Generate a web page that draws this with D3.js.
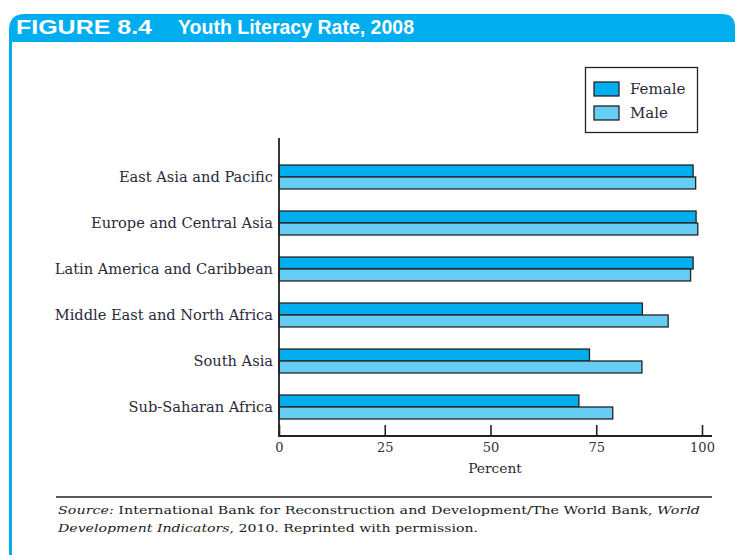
<!DOCTYPE html>
<html><head><meta charset="utf-8">
<script src="https://cdn.jsdelivr.net/npm/d3@7"></script>
<style>
html,body{margin:0;padding:0;background:#fff;}
svg{display:block;}
</style></head>
<body>
<svg id="chart" width="735" height="555"></svg>
<script>
const categories = ["East Asia and Pacific","Europe and Central Asia","Latin America and Caribbean","Middle East and North Africa","South Asia","Sub-Saharan Africa"];
const female = [97.9, 98.6, 97.9, 85.9, 73.4, 70.9];
const male = [98.5, 99.0, 97.3, 92.0, 85.8, 78.9];
const seriesNames = ["Female","Male"];
const tickValues = [0,25,50,75,100];

const colors = {Female:"#00aeef", Male:"#66cdf4"};
const svg = d3.select("#chart");
const serif = "'DejaVu Serif','Liberation Serif',serif";
const titleFont = "'Liberation Sans Narrow','Liberation Sans','DejaVu Sans Condensed',sans-serif";

// frame
const blue = "#00aeef";
svg.append("path")
  .attr("d","M9,555 L9,30 Q9,14 25,14 L722,14 Q735,14 735,27 L735,42 L9,42")
  .attr("fill",blue);
svg.append("rect").attr("x",9).attr("y",40).attr("width",3).attr("height",515).attr("fill",blue);
svg.append("text").attr("x",16).attr("y",34)
  .attr("font-family",titleFont)
  .attr("font-weight","bold").attr("font-size",21).attr("fill","#fff")
  .attr("textLength",136).attr("lengthAdjust","spacingAndGlyphs")
  .text("FIGURE 8.4");
svg.append("text").attr("x",178).attr("y",34)
  .attr("font-family",titleFont)
  .attr("font-weight","bold").attr("font-size",21).attr("fill","#fff")
  .attr("textLength",236).attr("lengthAdjust","spacingAndGlyphs")
  .text("Youth Literacy Rate, 2008");

const x = d3.scaleLinear().domain([0,100]).range([279,702]);
const y = d3.scaleBand().domain(categories).range([154,430]).paddingInner(0.48).paddingOuter(0.24);
const sub = d3.scaleBand().domain(seriesNames).range([0,y.bandwidth()]);

const data = categories.map((c,i)=>({cat:c, values:[{k:"Female",v:female[i]},{k:"Male",v:male[i]}]}));

const g = svg.append("g");
const groups = g.selectAll("g.grp").data(data).join("g").attr("class","grp")
  .attr("transform",d=>`translate(0,${y(d.cat)})`);
groups.selectAll("rect").data(d=>d.values).join("rect")
  .attr("x",x(0)).attr("y",d=>sub(d.k)).attr("width",d=>x(d.v)-x(0)).attr("height",sub.bandwidth())
  .attr("fill",d=>colors[d.k]).attr("stroke","#222").attr("stroke-width",1.3);

// y labels
svg.append("g").selectAll("text").data(categories).join("text")
  .attr("x",273).attr("y",d=>y(d)+y.bandwidth()/2+5)
  .attr("text-anchor","end").attr("font-family",serif).attr("font-size",14.6).attr("fill","#2a2a3a")
  .text(d=>d);

// axes
svg.append("line").attr("x1",279).attr("x2",279).attr("y1",138).attr("y2",437).attr("stroke","#222").attr("stroke-width",1.8);
const xAxis = d3.axisBottom(x).tickValues(tickValues).tickSize(-11).tickPadding(7).tickFormat(d3.format("d"));
const ax = svg.append("g").attr("transform","translate(0,436)").call(xAxis);
ax.select(".domain").attr("d","M279,0H712").attr("stroke","#222").attr("stroke-width",1.8);
ax.selectAll(".tick line").attr("stroke","#222").attr("stroke-width",1.6);
ax.selectAll(".tick text").attr("font-family",serif).attr("font-size",13).attr("fill","#333");
svg.append("text").attr("x",495).attr("y",473).attr("text-anchor","middle")
  .attr("font-family",serif).attr("font-size",13.8).attr("fill","#2a2a3a").text("Percent");

// legend
const lg = svg.append("g");
lg.append("rect").attr("x",585.5).attr("y",67.5).attr("width",112).attr("height",65).attr("fill","#fff").attr("stroke","#222").attr("stroke-width",1.3);
seriesNames.forEach((s,i)=>{
  lg.append("rect").attr("x",594).attr("y",82+i*24).attr("width",25).attr("height",14)
    .attr("fill",colors[s]).attr("stroke","#222").attr("stroke-width",1.3);
  lg.append("text").attr("x",630).attr("y",94+i*24).attr("font-family",serif).attr("font-size",15).attr("fill","#2a2a3a").text(s);
});

// source
svg.append("line").attr("x1",56).attr("x2",712).attr("y1",497).attr("y2",497).attr("stroke","#222").attr("stroke-width",1.5);
const src = svg.append("text").attr("x",58).attr("y",514).attr("font-family",serif).attr("font-size",11.8).attr("fill","#222")
  .attr("textLength",642).attr("lengthAdjust","spacingAndGlyphs");
src.append("tspan").attr("font-style","italic").text("Source:");
src.append("tspan").text(" International Bank for Reconstruction and Development/The World Bank, ");
src.append("tspan").attr("font-style","italic").text("World");
const src2 = svg.append("text").attr("x",58).attr("y",532).attr("font-family",serif).attr("font-size",11.8).attr("fill","#222")
  .attr("textLength",420).attr("lengthAdjust","spacingAndGlyphs");
src2.append("tspan").attr("font-style","italic").text("Development Indicators");
src2.append("tspan").text(", 2010. Reprinted with permission.");
</script>
</body></html>
